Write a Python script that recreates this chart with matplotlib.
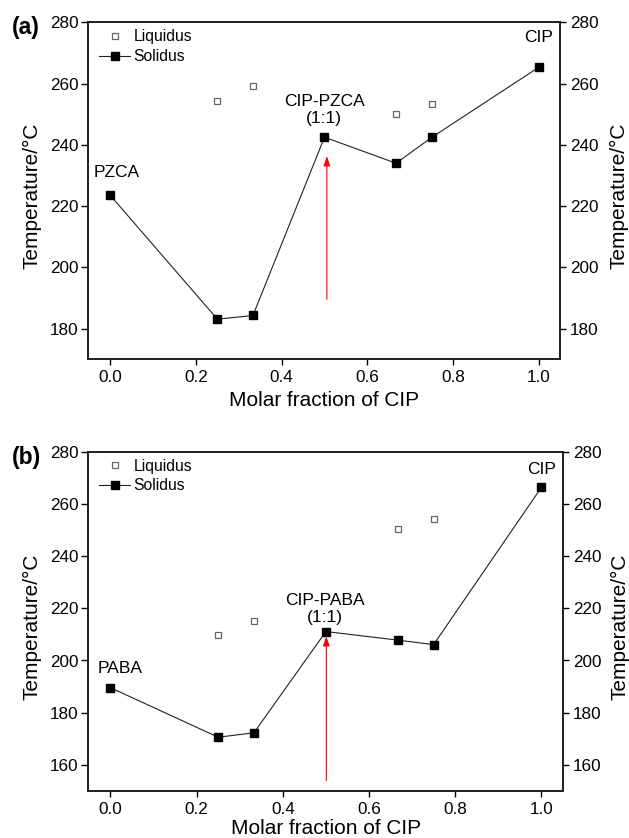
import matplotlib
matplotlib.use("Agg")
import matplotlib.pyplot as plt

plt.rcParams['font.family'] = ['Liberation Sans', 'DejaVu Sans']

# Panel (a): CIP-PZCA
x_sol_a = [0.0, 0.25, 0.333, 0.5, 0.667, 0.75, 1.0]
sol_a = [223.5, 183.1, 184.3, 242.5, 234.0, 242.4, 265.3]
x_liq_a = [0.25, 0.333, 0.667, 0.75]
liq_a = [254.3, 259.1, 250.1, 253.4]

# Panel (b): CIP-PABA
x_sol_b = [0.0, 0.25, 0.333, 0.5, 0.667, 0.75, 1.0]
sol_b = [189.6, 170.6, 172.3, 211.1, 207.8, 206.1, 266.3]
x_liq_b = [0.25, 0.333, 0.667, 0.75]
liq_b = [209.8, 215.0, 250.4, 254.4]

xticks = [0.0, 0.2, 0.4, 0.6, 0.8, 1.0]
yticks_a = [180, 200, 220, 240, 260, 280]
yticks_b = [160, 180, 200, 220, 240, 260, 280]

W, H = 629, 838
fig = plt.figure(figsize=(W / 100, H / 100), dpi=100)

panels = [
    dict(px=(88.2, 560.4, 22.3, 359.3), ylim=(170, 280), yticks=yticks_a,
         xs=x_sol_a, s=sol_a, xl=x_liq_a, l=liq_a, tag='(a)', tag_y=27.5,
         comp='PZCA', comp_xy=(0.016, 231.0), cc='CIP-PZCA\n(1:1)', cc_xy=(0.499, 251.5),
         cip_xy=(1.0, 275.0), arrow=(0.5056, 189.6, 236.3),
         ylab_x=(32, 619), ylab_y=196, xlab_y=400),
    dict(px=(88.2, 563.2, 451.7, 791.0), ylim=(150, 280), yticks=yticks_b,
         xs=x_sol_b, s=sol_b, xl=x_liq_b, l=liq_b, tag='(b)', tag_y=457.5,
         comp='PABA', comp_xy=(0.023, 197.0), cc='CIP-PABA\n(1:1)', cc_xy=(0.498, 219.8),
         cip_xy=(1.0, 273.0), arrow=(0.501, 154.0, 209.3),
         ylab_x=(32, 619.5), ylab_y=627, xlab_y=828),
]

for p in panels:
    x0, x1, y0, y1 = p['px']
    rect = [x0 / W, 1 - y1 / H, (x1 - x0) / W, (y1 - y0) / H]
    aw, ah = x1 - x0, y1 - y0
    ax = fig.add_axes(rect)
    ax.plot(p['xl'], p['l'], linestyle='none', marker='s', markersize=5,
            markerfacecolor='white', markeredgecolor='#666666', markeredgewidth=0.9,
            label='Liquidus')
    ax.plot(p['xs'], p['s'], color='#222222', linewidth=0.8, marker='s', markersize=6,
            markerfacecolor='black', markeredgecolor='black', label='Solidus')
    ax.set_xlim(-0.0516, 1.0507)
    ax.set_ylim(*p['ylim'])
    ax.set_xticks(xticks)
    ax.set_xticklabels([f'{v:.1f}' for v in xticks])
    ax.set_yticks(p['yticks'])
    ax.tick_params(axis='y', direction='out', length=5, width=1.0, labelsize=12.3, pad=2)
    ax.tick_params(axis='x', direction='out', length=4.5, width=1.0, labelsize=12.3, pad=3.5)
    ax.tick_params(top=False)
    for sp in ax.spines.values():
        sp.set_linewidth(1.3)
        sp.set_color('#222222')
    ax.set_xlabel('Molar fraction of CIP', fontsize=15)
    ax.xaxis.set_label_coords(0.5, (y1 - p['xlab_y']) / ah)
    ax.xaxis.label.set_va('center')
    ax.set_ylabel('Temperature/°C', fontsize=15)
    ax.yaxis.set_label_coords((p['ylab_x'][0] - x0) / aw, (y1 - p['ylab_y']) / ah)
    ax.yaxis.label.set_va('center')

    ax2 = ax.twinx()
    ax2.set_ylim(*p['ylim'])
    ax2.set_yticks(p['yticks'])
    ax2.tick_params(axis='y', direction='out', length=4.5, width=1.0, labelsize=12.3, pad=2.5)
    ax2.set_ylabel('Temperature/°C', fontsize=15)
    ax2.yaxis.set_label_coords((p['ylab_x'][1] - x0) / aw, (y1 - p['ylab_y']) / ah)
    ax2.yaxis.label.set_va('center')
    for sp in ax2.spines.values():
        sp.set_linewidth(1.3)
        sp.set_color('#222222')

    ax.legend(loc='upper left', frameon=False, fontsize=11.3, handlelength=2.0,
              handletextpad=0.2, labelspacing=0.3, borderaxespad=0.0, borderpad=0.0,
              bbox_to_anchor=((99 - 88.2) / aw, 1 - 7.0 / ah))

    ax.text(p['comp_xy'][0], p['comp_xy'][1], p['comp'], ha='center', va='center', fontsize=12.5)
    ax.text(p['cc_xy'][0], p['cc_xy'][1], p['cc'], ha='center', va='center', fontsize=12.5,
            linespacing=1.15)
    ax.text(p['cip_xy'][0], p['cip_xy'][1], 'CIP', ha='center', va='center', fontsize=12.5)

    axx, ya, yb = p['arrow']
    ax.annotate('', xy=(axx, yb), xytext=(axx, ya),
                arrowprops=dict(arrowstyle='-|>,head_length=0.58,head_width=0.2',
                                color='red', lw=0.8, shrinkA=0, shrinkB=0))

    fig.text(12 / W, 1 - p['tag_y'] / H, p['tag'], fontsize=16.5, fontweight='bold',
             ha='left', va='center')

fig.savefig('out.png', dpi=100)
